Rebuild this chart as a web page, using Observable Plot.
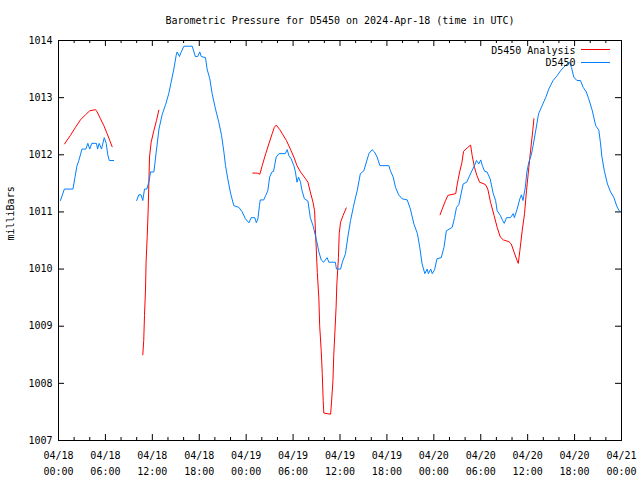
<!DOCTYPE html>
<html>
<head>
<meta charset="utf-8">
<script src="https://cdn.jsdelivr.net/npm/d3@7"></script>
<script src="https://cdn.jsdelivr.net/npm/@observablehq/plot@0.6"></script>
<style>
  html, body { margin: 0; padding: 0; background: white; }
  #chart { width: 640px; height: 480px; }
</style>
</head>
<body>
<div id="chart"></div>
<script>
// ---- Data (hours since 2024-04-18 00:00 UTC; null = gap) ----
const titleText = "Barometric Pressure for D5450 on 2024-Apr-18 (time in UTC)";
const yLabelText = "milliBars";
const seriesNames = ["D5450 Analysis", "D5450"];
const seriesColors = ["#ff0000", "#0080ff"];

const obsHours = [
  0.25, 0.75, 1.85, 2.1, 2.35, 2.6, 3.0, 3.5, 3.75, 4.0, 4.25, 4.85, 5.0, 5.2, 5.5, 5.85, 6.1, 6.3, 6.5, 7.05,
  8.5,
  10.0, 10.27, 10.55, 10.78, 11.0, 11.3, 11.6, 11.77, 12.2, 12.5, 12.85, 13.25, 13.7, 14.1, 14.4, 14.75, 15.05, 15.17,
  15.47, 15.7, 16.03, 17.1, 17.5, 17.8, 18.07, 18.25, 18.8, 19.0, 19.35, 19.65, 20.08, 20.5, 20.85, 21.15, 21.36,
  21.65, 22.0, 22.42, 23.06, 23.5, 23.9, 24.35, 24.65, 25.1, 25.3, 25.5, 25.7, 25.8, 26.25, 26.5, 26.77, 27.0, 27.3,
  27.5, 27.84, 28.2, 29.0, 29.25, 29.45, 29.75, 30.1, 30.3, 30.5, 30.7, 30.95, 31.15, 31.45, 31.9, 32.2, 32.55,
  32.85, 33.1, 33.3, 33.6, 33.9, 34.35, 34.57, 35.4, 35.55, 36.07, 36.3, 36.7, 37.0, 37.35, 37.7, 38.0, 38.2, 38.6,
  39.05, 39.3, 39.7, 40.1, 40.4, 40.75, 41.1, 42.25, 42.45, 42.8, 43.1, 43.5, 43.95, 44.6, 45.0, 45.45, 45.9, 46.2,
  46.5, 46.85, 47.15, 47.3, 47.6, 47.8, 48.1, 48.4, 48.95, 49.3, 49.6, 50.35, 50.65, 50.9, 51.2, 51.4, 51.75, 52.2,
  52.5, 52.8, 53.2, 53.45, 53.75, 54.0, 54.2, 54.5, 54.8, 55.2, 55.6, 55.9, 56.1, 56.5, 56.8, 57.0, 57.3, 57.8,
  58.15, 58.3, 58.65, 59.0, 59.2, 59.4, 59.7, 59.9, 60.15, 60.45, 60.7, 61.0, 61.4, 61.85, 62.3, 62.7, 63.25, 63.8,
  64.2, 64.6, 65.05, 65.35, 65.6, 65.9, 66.3, 66.75, 67.1, 67.5, 67.8, 68.25, 68.7, 69.1, 69.3, 69.5, 69.8, 70.2,
  70.6, 71.0, 71.4, 71.7, 72.0
];
const obsPressure = [
  1011.2, 1011.4, 1011.4, 1011.6, 1011.8, 1011.9, 1012.1, 1012.1, 1012.2, 1012.1, 1012.2, 1012.2, 1012.1, 1012.2, 1012.1, 1012.3, 1012.2, 1012.0, 1011.9, 1011.9,
  null,
  1011.2, 1011.3, 1011.3, 1011.2, 1011.4, 1011.4, 1011.55, 1011.7, 1011.7, 1012.05, 1012.45, 1012.7, 1012.88, 1013.07, 1013.27, 1013.5, 1013.74, 1013.8,
  1013.72, 1013.8, 1013.9, 1013.9, 1013.72, 1013.72, 1013.8, 1013.72, 1013.7, 1013.5, 1013.33, 1013.07, 1012.8, 1012.57, 1012.34, 1012.05, 1011.81,
  1011.58, 1011.33, 1011.11, 1011.08, 1011.0, 1010.88, 1010.81, 1010.9, 1010.9, 1010.81, 1010.88, 1011.11, 1011.21, 1011.21, 1011.29, 1011.37, 1011.61, 1011.7,
  1011.71, 1011.96, 1012.02, 1012.02, 1012.09, 1011.99, 1011.93, 1011.81, 1011.7, 1011.52, 1011.61, 1011.52, 1011.37, 1011.23, 1011.19, 1010.9, 1010.76,
  1010.59, 1010.44, 1010.3, 1010.16, 1010.12, 1010.2, 1010.12, 1010.12, 1010.0, 1010.0, 1010.12, 1010.27, 1010.56, 1010.85, 1011.08, 1011.26, 1011.37, 1011.67,
  1011.72, 1011.84, 1012.02, 1012.09, 1012.05, 1011.96, 1011.81, 1011.81, 1011.72, 1011.61, 1011.43, 1011.3, 1011.23, 1011.21, 1011.05, 1010.79, 1010.62, 1010.38,
  1010.09, 1009.92, 1010.0, 1009.92, 1010.0, 1009.92, 1009.99, 1010.18, 1010.2, 1010.38, 1010.67, 1010.73, 1010.9, 1011.08, 1011.13, 1011.26, 1011.49, 1011.52,
  1011.61, 1011.7, 1011.81, 1011.9, 1011.84, 1011.91, 1011.81, 1011.71, 1011.7, 1011.58, 1011.32, 1011.2, 1011.02, 1010.94, 1010.85, 1010.8, 1010.9, 1010.9,
  1010.97, 1010.9, 1011.05, 1011.23, 1011.3, 1011.2, 1011.43, 1011.7, 1011.87, 1011.99, 1012.16, 1012.4, 1012.72, 1012.86, 1013.0, 1013.15, 1013.3, 1013.39,
  1013.47, 1013.53, 1013.59, 1013.62, 1013.53, 1013.36, 1013.3, 1013.3, 1013.18, 1013.1, 1012.98, 1012.78, 1012.51, 1012.43, 1012.22, 1011.96, 1011.72, 1011.49,
  1011.35, 1011.26, 1011.1, 1011.02, 1011.0
];

const anaHours = [
  0.77, 1.53, 2.17, 2.8, 3.45, 4.0, 4.73, 4.94, 5.37, 5.8, 6.22, 6.56, 6.86,
  8.5,
  10.78, 10.9, 11.0, 11.13, 11.2, 11.35, 11.47, 11.64, 11.85, 12.19, 12.53, 12.83,
  18.0,
  24.85, 25.4, 25.75, 26.05, 26.5, 26.9, 27.33, 27.6, 27.85, 28.3, 28.7, 29.15, 29.65, 30.1, 30.5, 30.95, 31.6, 31.9,
  32.2, 32.55, 32.75, 32.85, 33.1, 33.3, 33.4, 33.6, 33.73, 33.85, 33.93, 34.8, 34.9, 35.1, 35.2, 35.35, 35.5, 35.6,
  35.8, 35.9, 36.07, 36.4, 36.8,
  42.0,
  48.8, 49.07, 49.5, 49.8, 50.8, 51.0, 51.3, 51.6, 51.8, 52.27, 52.7, 52.9, 53.2, 53.5, 53.85, 54.6, 54.9, 55.25,
  55.7, 56.1, 56.5, 56.9, 57.6, 57.9, 58.25, 58.65, 58.8, 59.0, 59.3, 59.6, 59.85, 60.15, 60.37, 60.65, 60.8
];
const anaPressure = [
  1012.19, 1012.34, 1012.48, 1012.61, 1012.70, 1012.77, 1012.79, 1012.75, 1012.63, 1012.51, 1012.37, 1012.25, 1012.14,
  null,
  1008.5, 1008.75, 1009.19, 1009.65, 1010.12, 1010.59, 1011.05, 1011.96, 1012.22, 1012.42, 1012.6, 1012.78,
  null,
  1011.68, 1011.68, 1011.66, 1011.81, 1012.02, 1012.19, 1012.37, 1012.48, 1012.52, 1012.44, 1012.35, 1012.25, 1012.1, 1011.96, 1011.81, 1011.7, 1011.58, 1011.52,
  1011.35, 1011.17, 1011.02, 1010.7, 1009.94, 1009.48, 1009.01, 1008.57, 1008.17, 1007.7, 1007.48, 1007.46, 1007.64, 1008.05, 1008.49, 1008.9, 1009.33, 1009.74,
  1010.2, 1010.62, 1010.82, 1010.94, 1011.07,
  null,
  1010.95, 1011.05, 1011.2, 1011.29, 1011.32, 1011.49, 1011.7, 1011.87, 1012.06, 1012.12, 1012.17, 1011.99, 1011.78, 1011.64, 1011.52, 1011.48, 1011.4, 1011.17,
  1010.94, 1010.73, 1010.56, 1010.51, 1010.48, 1010.44, 1010.3, 1010.15, 1010.1, 1010.32, 1010.67, 1010.97, 1011.37, 1011.78, 1012.07, 1012.42, 1012.63
];

const majorTickHours = [0, 6, 12, 18, 24, 30, 36, 42, 48, 54, 60, 66, 72];
const minorTickHours = d3.range(0, 73, 2);
const yTickValues = [1007, 1008, 1009, 1010, 1011, 1012, 1013, 1014];

// ---- Build ----
const t0 = Date.UTC(2024, 3, 18, 0, 0);
const toDate = h => new Date(t0 + h * 3600e3);
const obs = obsHours.map((h, i) => ({t: toDate(h), p: obsPressure[i]}));
const ana = anaHours.map((h, i) => ({t: toDate(h), p: anaPressure[i]}));
const majorTicks = majorTickHours.map(toDate);
const minorTicks = minorTickHours.map(toDate).filter(d => !majorTicks.some(m => +m === +d));

const W = 640, H = 480, ML = 58, MR = 19, MT = 40, MB = 40;
const fw = W - ML - MR, fh = H - MT - MB;
const font = "'DejaVu Sans Mono', monospace";

const chart = Plot.plot({
  width: W, height: H,
  marginLeft: ML, marginRight: MR, marginTop: MT, marginBottom: MB,
  style: {fontFamily: font, fontSize: "10px", background: "white", color: "black"},
  x: {type: "utc", domain: [toDate(0), toDate(72)]},
  y: {domain: [1007, 1014]},
  marks: [
    // inward ticks (bottom / top)
    Plot.tickX(majorTicks, {x: d => d, insetTop: fh - 6, stroke: "black"}),
    Plot.tickX(majorTicks, {x: d => d, insetBottom: fh - 6, stroke: "black"}),
    Plot.tickX(minorTicks, {x: d => d, insetTop: fh - 3, stroke: "black"}),
    Plot.tickX(minorTicks, {x: d => d, insetBottom: fh - 3, stroke: "black"}),
    // inward ticks (left / right)
    Plot.tickY(yTickValues, {y: d => d, insetRight: fw - 6, stroke: "black"}),
    Plot.tickY(yTickValues, {y: d => d, insetLeft: fw - 6, stroke: "black"}),
    Plot.axisX({ticks: majorTicks, tickSize: 0, tickPadding: 7, lineHeight: 1.6,
      tickFormat: d3.utcFormat("%m/%d\n%H:%M"), label: null, fontSize: 10}),
    Plot.axisY({ticks: yTickValues, tickSize: 0, tickPadding: 6, tickFormat: d => String(d), label: null, fontSize: 10}),
    Plot.line(ana, {x: "t", y: "p", stroke: seriesColors[0], strokeWidth: 1}),
    Plot.line(obs, {x: "t", y: "p", stroke: seriesColors[1], strokeWidth: 1}),
    Plot.frame({stroke: "black", strokeWidth: 1}),
    Plot.text([titleText], {frameAnchor: "top", dy: -20, lineAnchor: "middle", fontSize: 10}),
    Plot.text([yLabelText], {frameAnchor: "left", dx: -48, rotate: -90, fontSize: 10}),
    Plot.text([seriesNames[0]], {frameAnchor: "top-right", dx: -46, dy: 10, lineAnchor: "middle", textAnchor: "end", fontSize: 10}),
    Plot.text([seriesNames[1]], {frameAnchor: "top-right", dx: -46, dy: 22.5, lineAnchor: "middle", textAnchor: "end", fontSize: 10})
  ]
});

// legend line samples
const svg = d3.select(chart);
[[49.5, seriesColors[0]], [62.5, seriesColors[1]]].forEach(([y, c]) => {
  svg.append("line").attr("x1", W - MR - 40).attr("x2", W - MR - 11)
    .attr("y1", y).attr("y2", y).attr("stroke", c).attr("stroke-width", 1);
});

document.getElementById("chart").appendChild(chart);
</script>
</body>
</html>
